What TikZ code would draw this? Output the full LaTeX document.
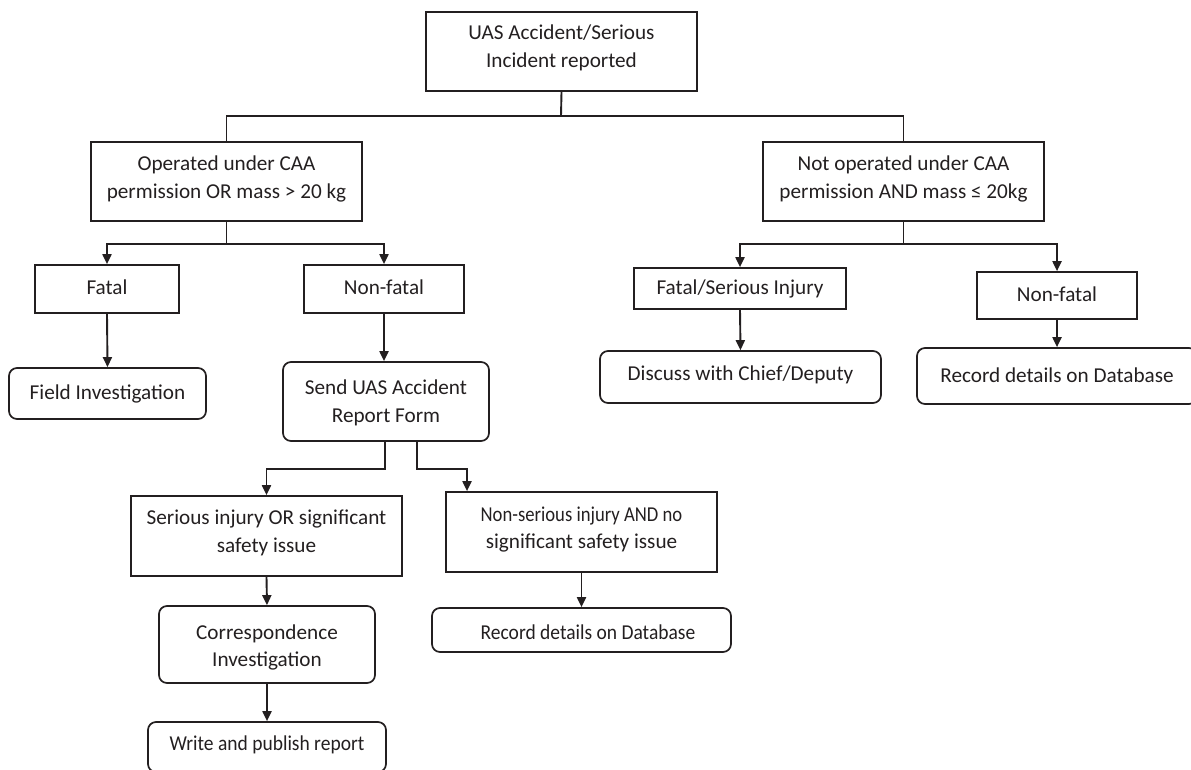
\documentclass[tikz,border=0pt]{standalone}
\usepackage{fontspec}
\setmainfont{Carlito}
\usetikzlibrary{arrows.meta}
\definecolor{ink}{RGB}{35,31,32}
\newcommand\rz[2]{\raisebox{#1}[\height][\depth]{#2}}
\newcommand\bx[2]{\rz{#1}{\begin{tabular}{@{}c@{}}#2\end{tabular}}}
\newcommand\cond[2]{\scalebox{#1}[1]{#2}}
\begin{document}
\begin{tikzpicture}[x=1pt,y=-1pt,
  font=\fontsize{21.2}{27.5}\selectfont,
  box/.style={draw=ink, line width=1.7pt, inner sep=0pt, align=center, text=ink},
  rbox/.style={box, rounded corners=8pt},
  ln/.style={draw=ink, line width=1.9pt},
  arr/.style={ln, -{Triangle[width=9pt,length=10pt]}}]
\useasboundingbox (0,0) rectangle (1191,769);
% nodes
\node[box, minimum width=271pt, minimum height=79pt] (top) at (561.5,51.5) {\bx{3.5pt}{UAS Accident/Serious\\Incident reported}};
\node[box, minimum width=271pt, minimum height=79pt] (L1) at (226.5,181.5) {\bx{2.5pt}{Operated under CAA\\permission OR mass > 20 kg}};
\node[box, minimum width=281pt, minimum height=79pt] (R1) at (903.5,181.5) {\bx{2.5pt}{Not operated under CAA\\permission AND mass ≤ 20kg}};
\node[box, minimum width=144pt, minimum height=48pt] (fatal) at (107,289) {\rz{2pt}{Fatal}};
\node[box, minimum width=160pt, minimum height=48pt] (nfL) at (384,289) {\rz{2pt}{Non-fatal}};
\node[rbox, minimum width=197pt, minimum height=51pt] (field) at (107.5,393.5) {Field Investigation};
\node[rbox, minimum width=206pt, minimum height=79pt] (send) at (386,401.5) {\bx{-1.5pt}{Send UAS Accident\\Report Form}};
\node[box, minimum width=212pt, minimum height=41pt] (fsi) at (740,288.5) {Fatal/Serious Injury};
\node[box, minimum width=160pt, minimum height=47pt] (nfR) at (1057,295.5) {\rz{1pt}{Non-fatal}};
\node[rbox, minimum width=281pt, minimum height=52pt] (disc) at (740.5,377) {\rz{2pt}{Discuss with Chief/Deputy}};
\node[rbox, minimum width=280pt, minimum height=56pt] (recR) at (1057,376) {\rz{1pt}{Record details on Database}};
\node[box, minimum width=271pt, minimum height=80pt] (ser) at (266.5,536) {\bx{3pt}{Serious injury OR significant\\safety issue}};
\node[box, minimum width=271pt, minimum height=80pt] (nser) at (581.5,532) {\bx{2.5pt}{\cond{0.88}{Non-serious injury AND no}\\significant safety issue}};
\node[rbox, minimum width=216pt, minimum height=77pt] (corr) at (267,644.5) {\bx{-3pt}{Correspondence\\Investigation}};
\node[rbox, minimum width=299pt, minimum height=44pt] (recL) at (581.5,630) {\rz{-2pt}{\hspace*{13pt}\cond{0.92}{Record details on Database}}};
\node[rbox, minimum width=238pt, minimum height=50pt] (write) at (267,747) {\rz{2pt}{\cond{0.92}{Write and publish report}}};
% connectors
\coordinate (j0) at (561,116);
\draw[ln] (top.south) -- (j0);
\draw[ln] (L1.north) |- (j0);
\draw[ln] (R1.north) |- (j0);
\draw[arr] (L1.south) -- ++(0,22) -| (fatal.north);
\draw[arr] (L1.south) -- ++(0,22) -| (nfL.north);
\draw[arr] (R1.south) -- ++(0,22) -| (fsi.north);
\draw[arr] (R1.south) -- ++(0,22) -| (nfR.north);
\draw[arr] (fatal.south) -- (field.north);
\draw[arr] (nfL.south) -- (nfL.south |- send.north);
\draw[arr] (fsi.south) -- (disc.north);
\draw[arr] (nfR.south) -- (recR.north);
\draw[arr] ([xshift=-1pt]send.south) -- ++(0,27) -| (ser.north);
\draw[arr] ([xshift=31pt]send.south) -- ++(0,27) -| ([xshift=-114.5pt]nser.north);
\draw[arr] (ser.south) -- (corr.north);
\draw[arr] (corr.south) -- (write.north);
\draw[arr] (nser.south) -- (recL.north);
\end{tikzpicture}
\end{document}
